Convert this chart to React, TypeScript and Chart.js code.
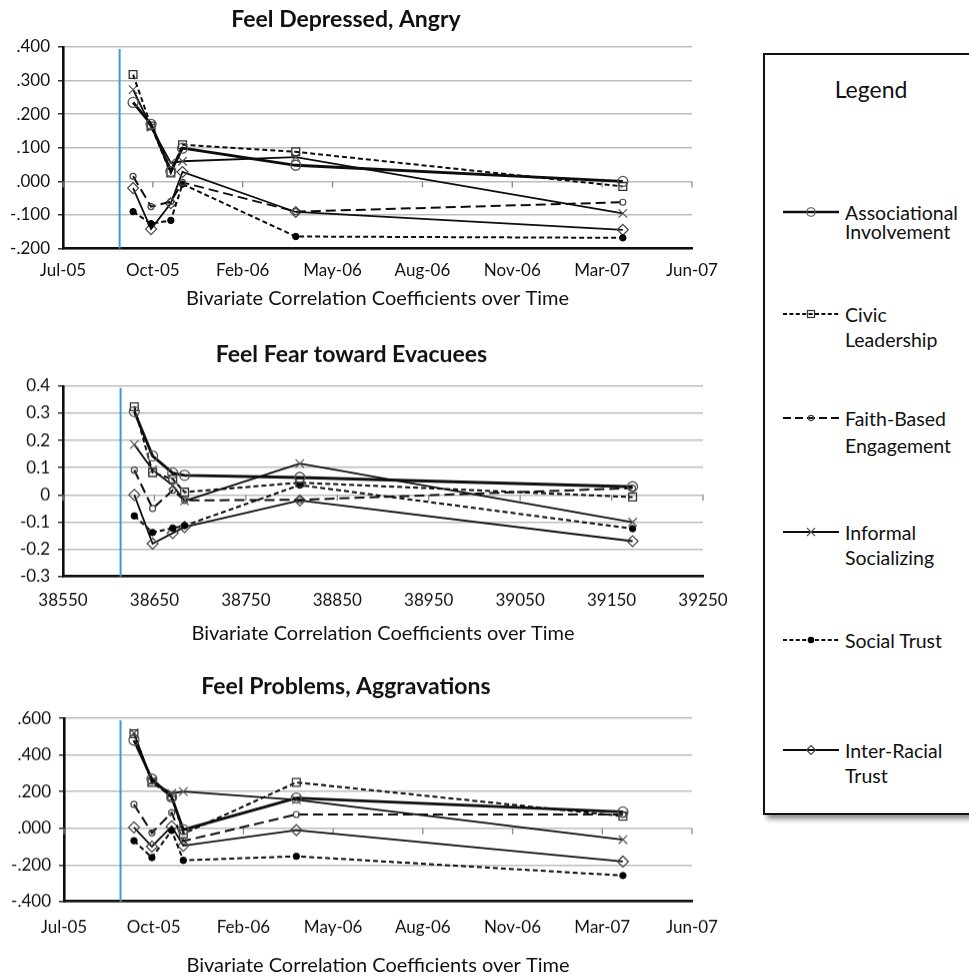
import React, { useEffect, useRef } from "react";
import { Chart, registerables } from "chart.js";

Chart.register(...registerables);

// ---------------- data ----------------
const SERIES_NAMES = [
  "Associational Involvement",
  "Civic Leadership",
  "Faith-Based Engagement",
  "Informal Socializing",
  "Social Trust",
  "Inter-Racial Trust",
];
const LEGEND_LINES = [
  ["Associational", "Involvement"],
  ["Civic", "Leadership"],
  ["Faith-Based", "Engagement"],
  ["Informal", "Socializing"],
  ["Social Trust"],
  ["Inter-Racial", "Trust"],
];

// Excel date serials of the survey waves
const WAVE_DATES = [38628, 38648, 38670, 38683, 38809, 39173];
const EVENT_DATE = 38613;

const DATE_TICK_LABELS = ["Jul-05", "Oct-05", "Feb-06", "May-06", "Aug-06", "Nov-06", "Mar-07", "Jun-07"];
const SERIAL_TICK_LABELS = ["38550", "38650", "38750", "38850", "38950", "39050", "39150", "39250"];
const DEP_Y_LABELS = ["-.200", "-.100", ".000", ".100", ".200", ".300", ".400"];
const FEAR_Y_LABELS = ["-0.3", "-0.2", "-0.1", "0", "0.1", "0.2", "0.3", "0.4"];
const PROB_Y_LABELS = ["-.400", "-.200", ".000", ".200", ".400", ".600"];

// Feel Depressed, Angry
const DEP_ASSOC = [0.235, 0.17, 0.03, 0.099, 0.048, 0.0];
const DEP_CIVIC = [0.318, 0.165, 0.025, 0.109, 0.088, -0.015];
const DEP_FAITH = [0.015, -0.075, -0.06, -0.003, -0.09, -0.062];
const DEP_INFORMAL = [0.273, 0.162, 0.055, 0.06, 0.072, -0.095];
const DEP_SOCIAL = [-0.09, -0.126, -0.116, -0.008, -0.164, -0.168];
const DEP_RACIAL = [-0.02, -0.142, -0.065, 0.028, -0.091, -0.144];

// Feel Fear toward Evacuees
const FEAR_ASSOC = [0.306, 0.143, 0.08, 0.072, 0.064, 0.03];
const FEAR_CIVIC = [0.324, 0.082, 0.058, 0.01, 0.045, -0.008];
const FEAR_FAITH = [0.091, -0.05, 0.017, -0.02, -0.018, 0.025];
const FEAR_INFORMAL = [0.185, 0.092, 0.035, -0.022, 0.115, -0.1];
const FEAR_SOCIAL = [-0.077, -0.138, -0.122, -0.113, 0.036, -0.124];
const FEAR_RACIAL = [0.0, -0.179, -0.14, -0.118, -0.02, -0.17];

// Feel Problems, Aggravations
const PROB_ASSOC = [0.48, 0.268, 0.17, -0.008, 0.165, 0.089];
const PROB_CIVIC = [0.516, 0.25, 0.175, -0.03, 0.25, 0.066];
const PROB_FAITH = [0.13, -0.025, 0.085, -0.07, 0.075, 0.075];
const PROB_INFORMAL = [0.52, 0.255, 0.19, 0.2, 0.155, -0.062];
const PROB_SOCIAL = [-0.068, -0.16, -0.012, -0.175, -0.153, -0.258];
const PROB_RACIAL = [0.005, -0.1, 0.01, -0.095, -0.01, -0.182];

// ---------------- styles ----------------
const FONT_FAMILY = "Lato, 'Open Sans', sans-serif";
const INK = "#0d0d0d";
const TEXT = "#111";
const TITLE_SIZE = 23;
const TICK_SIZE = 17;
const AXIS_TITLE_SIZE = 20;
const LH = 1.2;

type SeriesStyle = {
  width: number;
  dash: number[];
  point: string;
  radius: number;
  pointBorder: string;
  pointFill: string;
  pointBorderWidth: number;
};

const SERIES_STYLE: SeriesStyle[] = [
  { width: 2.8, dash: [], point: "circle", radius: 5, pointBorder: "#555", pointFill: "rgba(0,0,0,0)", pointBorderWidth: 1.3 },
  { width: 2, dash: [5, 3], point: "rect", radius: 5.5, pointBorder: "#333", pointFill: "rgba(0,0,0,0)", pointBorderWidth: 1.3 },
  { width: 2, dash: [10, 5], point: "circle", radius: 3, pointBorder: "#444", pointFill: "rgba(0,0,0,0)", pointBorderWidth: 1.2 },
  { width: 1.8, dash: [], point: "crossRot", radius: 6, pointBorder: "#555", pointFill: "rgba(0,0,0,0)", pointBorderWidth: 1.2 },
  { width: 2, dash: [5, 3], point: "circle", radius: 3.2, pointBorder: "#000", pointFill: "#000", pointBorderWidth: 1 },
  { width: 1.8, dash: [], point: "rectRot", radius: 5.5, pointBorder: "#444", pointFill: "rgba(0,0,0,0)", pointBorderWidth: 1.2 },
];

type PanelTarget = {
  title: string;
  values: number[][];
  yMin: number;
  yMax: number;
  yStep: number;
  yLabels: string[];
  xLabels: string[];
  width: number;
  axisWidth: number;
  padRight: number;
  titleY: number;
  plotTop: number;
  plotBottom: number;
  labelY: number;
  axisTitleY: number;
};

const PANELS: PanelTarget[] = [
  {
    title: "Feel Depressed, Angry",
    values: [DEP_ASSOC, DEP_CIVIC, DEP_FAITH, DEP_INFORMAL, DEP_SOCIAL, DEP_RACIAL],
    yMin: -0.2, yMax: 0.4, yStep: 0.1, yLabels: DEP_Y_LABELS, xLabels: DATE_TICK_LABELS,
    width: 720, axisWidth: 63, padRight: 28,
    titleY: 19.5, plotTop: 46.7, plotBottom: 248.3, labelY: 270, axisTitleY: 298,
  },
  {
    title: "Feel Fear toward Evacuees",
    values: [FEAR_ASSOC, FEAR_CIVIC, FEAR_FAITH, FEAR_INFORMAL, FEAR_SOCIAL, FEAR_RACIAL],
    yMin: -0.3, yMax: 0.4, yStep: 0.1, yLabels: FEAR_Y_LABELS, xLabels: SERIAL_TICK_LABELS,
    width: 742, axisWidth: 63, padRight: 39,
    titleY: 355, plotTop: 386, plotBottom: 576, labelY: 600, axisTitleY: 633,
  },
  {
    title: "Feel Problems, Aggravations",
    values: [PROB_ASSOC, PROB_CIVIC, PROB_FAITH, PROB_INFORMAL, PROB_SOCIAL, PROB_RACIAL],
    yMin: -0.4, yMax: 0.6, yStep: 0.2, yLabels: PROB_Y_LABELS, xLabels: DATE_TICK_LABELS,
    width: 720, axisWidth: 64, padRight: 28,
    titleY: 687, plotTop: 718.3, plotBottom: 901, labelY: 927, axisTitleY: 965,
  },
];

function layoutOf(p: PanelTarget) {
  const tlh = TITLE_SIZE * LH;
  const klh = TICK_SIZE * LH;
  const alh = AXIS_TITLE_SIZE * LH;
  const titlePadTop = 4;
  const top = p.titleY - titlePadTop - tlh / 2;
  const titlePadBottom = p.plotTop - top - titlePadTop - tlh;
  const tickLen = p.labelY - p.plotBottom - 1 - klh / 2;
  const labelEnd = p.plotBottom + tickLen + 2 + klh;
  const axisTitlePadTop = p.axisTitleY - labelEnd - alh / 2;
  const height = labelEnd + axisTitlePadTop + alh + 3 - top;
  return { top, height, titlePadTop, titlePadBottom, tickLen, axisTitlePadTop };
}

const refPlugin = {
  id: "refLines",
  beforeDatasetsDraw(chart: any) {
    const { ctx, chartArea, scales } = chart;
    const x = scales.x;
    const y = scales.y;
    ctx.save();
    const y0 = y.getPixelForValue(0);
    ctx.strokeStyle = "#888";
    ctx.lineWidth = 1.3;
    x.ticks.forEach((t: any) => {
      const px = x.getPixelForValue(t.value);
      ctx.beginPath();
      ctx.moveTo(px, y0);
      ctx.lineTo(px, y0 + 6);
      ctx.stroke();
    });
    const ex = x.getPixelForValue(EVENT_DATE);
    ctx.strokeStyle = "#3b9ad8";
    ctx.lineWidth = 2;
    ctx.beginPath();
    ctx.moveTo(ex, chartArea.top + 2);
    ctx.lineTo(ex, chartArea.bottom);
    ctx.stroke();
    ctx.restore();
  },
};

function buildConfig(p: PanelTarget): any {
  const L = layoutOf(p);
  return {
    type: "line",
    data: {
      datasets: SERIES_STYLE.map((st, i) => ({
        label: SERIES_NAMES[i],
        data: WAVE_DATES.map((x, k) => ({ x, y: p.values[i][k] })),
        borderColor: INK,
        borderWidth: st.width,
        borderDash: st.dash,
        pointStyle: st.point,
        pointRadius: st.radius,
        pointBorderColor: st.pointBorder,
        pointBackgroundColor: st.pointFill,
        pointBorderWidth: st.pointBorderWidth,
        tension: 0,
        fill: false,
      })),
    },
    options: {
      animation: false,
      responsive: true,
      maintainAspectRatio: false,
      layout: { padding: { left: 0, right: p.padRight, top: 0, bottom: 0 } },
      plugins: {
        legend: { display: false },
        tooltip: { enabled: false },
        title: {
          display: true,
          text: p.title,
          color: TEXT,
          font: { family: FONT_FAMILY, size: TITLE_SIZE, weight: "bold", lineHeight: LH },
          padding: { top: L.titlePadTop, bottom: L.titlePadBottom },
        },
      },
      scales: {
        x: {
          type: "linear",
          min: 38550,
          max: 39250,
          ticks: {
            stepSize: 100,
            padding: 1,
            color: TEXT,
            font: { family: FONT_FAMILY, size: TICK_SIZE, lineHeight: LH },
            maxRotation: 0,
            autoSkip: false,
            callback: (_v: any, i: number) => p.xLabels[i],
          },
          grid: {
            display: true,
            drawOnChartArea: false,
            drawTicks: true,
            tickLength: L.tickLen,
            color: "rgba(0,0,0,0)",
            tickColor: "rgba(0,0,0,0)",
          },
          border: { display: true, color: INK, width: 2.6 },
          title: {
            display: true,
            text: "Bivariate Correlation Coefficients over Time",
            color: TEXT,
            font: { family: FONT_FAMILY, size: AXIS_TITLE_SIZE, lineHeight: LH },
            padding: { top: L.axisTitlePadTop, bottom: 3 },
          },
        },
        y: {
          min: p.yMin,
          max: p.yMax,
          ticks: {
            stepSize: p.yStep,
            padding: 8,
            color: TEXT,
            font: { family: FONT_FAMILY, size: TICK_SIZE, lineHeight: LH },
            callback: (_v: any, i: number) => p.yLabels[i],
          },
          grid: {
            color: "#bdbdbd",
            lineWidth: 1.5,
            drawTicks: true,
            tickLength: 5,
            tickColor: "#333",
          },
          border: { display: true, color: INK, width: 2.6 },
          afterFit: (scale: any) => {
            scale.width = p.axisWidth;
          },
        },
      },
    },
    plugins: [refPlugin],
  };
}

function ChartPanel({ spec }: { spec: PanelTarget }) {
  const ref = useRef<HTMLCanvasElement | null>(null);
  useEffect(() => {
    if (!ref.current) return;
    const chart = new Chart(ref.current, buildConfig(spec));
    return () => chart.destroy();
  }, [spec]);
  const L = layoutOf(spec);
  return (
    <div style={{ position: "absolute", left: 0, top: L.top, width: spec.width, height: L.height }}>
      <canvas ref={ref} />
    </div>
  );
}

function LegendSymbol({ index }: { index: number }) {
  const st = SERIES_STYLE[index];
  const w = 56;
  const h = 16;
  const cx = w / 2;
  const cy = h / 2;
  let marker: React.ReactNode = null;
  const stroke = st.pointBorder;
  if (st.point === "circle") {
    marker = <circle cx={cx} cy={cy} r={st.radius * 0.85} fill={st.pointFill === "#000" ? "#000" : "none"} stroke={stroke} strokeWidth={1.2} />;
  } else if (st.point === "rect") {
    marker = <rect x={cx - 3.5} y={cy - 3.5} width={7} height={7} fill="none" stroke={stroke} strokeWidth={1.2} />;
  } else if (st.point === "crossRot") {
    marker = (
      <g stroke={stroke} strokeWidth={1.1}>
        <line x1={cx - 4} y1={cy - 4} x2={cx + 4} y2={cy + 4} />
        <line x1={cx - 4} y1={cy + 4} x2={cx + 4} y2={cy - 4} />
      </g>
    );
  } else if (st.point === "rectRot") {
    marker = <polygon points={`${cx},${cy - 4.5} ${cx + 4.5},${cy} ${cx},${cy + 4.5} ${cx - 4.5},${cy}`} fill="none" stroke={stroke} strokeWidth={1.1} />;
  }
  const lineW = Math.min(st.width, 2.4);
  return (
    <svg width={w} height={h} style={{ position: "absolute", left: 0, top: 0 }}>
      <line x1={0} y1={cy} x2={w} y2={cy} stroke={INK} strokeWidth={lineW} strokeDasharray={st.dash.length ? st.dash.map((d) => d * 0.8).join(" ") : undefined} />
      {marker}
    </svg>
  );
}

const LEGEND_BOX = { left: 763, top: 53, width: 240, height: 762 };
const LEGEND_ENTRY_Y = [212, 314, 418, 532, 640, 750];
const LEGEND_LINE_HEIGHT = [19, 25, 27, 25, 25, 25];

function Legend() {
  return (
    <div
      style={{
        position: "absolute",
        left: LEGEND_BOX.left,
        top: LEGEND_BOX.top,
        width: LEGEND_BOX.width,
        height: LEGEND_BOX.height,
        border: "2px solid #111",
        boxSizing: "border-box",
        background: "#fff",
        boxShadow: "4px 4px 5px rgba(0,0,0,0.45)",
        fontFamily: FONT_FAMILY,
        color: TEXT,
      }}
    >
      <div style={{ position: "absolute", left: 0, width: 212, top: 20, textAlign: "center", fontSize: 23, lineHeight: "28px" }}>Legend</div>
      {SERIES_NAMES.map((_name, i) => {
        const lh = LEGEND_LINE_HEIGHT[i];
        const top = LEGEND_ENTRY_Y[i] - LEGEND_BOX.top - 2 - lh / 2;
        return (
          <div key={i} style={{ position: "absolute", left: 0, top, width: 220, height: lh * 2 }}>
            <div style={{ position: "absolute", left: 18, top: lh / 2 - 8, width: 56, height: 16 }}>
              <LegendSymbol index={i} />
            </div>
            <div style={{ position: "absolute", left: 80, top: 0, fontSize: 19.5, lineHeight: `${lh}px`, whiteSpace: "nowrap" }}>
              {LEGEND_LINES[i].map((t, k) => (
                <div key={k}>{t}</div>
              ))}
            </div>
          </div>
        );
      })}
    </div>
  );
}

export default function App() {
  return (
    <div style={{ position: "absolute", left: 0, top: 0, width: 969, height: 976, overflow: "hidden", background: "#fff" }}>
      {PANELS.map((p, i) => (
        <ChartPanel key={i} spec={p} />
      ))}
      <Legend />
    </div>
  );
}
